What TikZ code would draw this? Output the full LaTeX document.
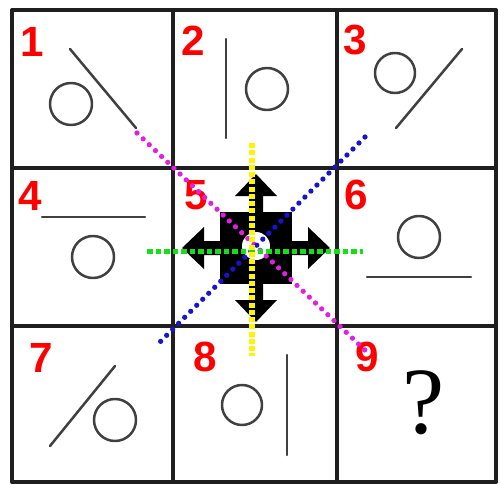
\documentclass[tikz,border=0pt]{standalone}
\usepackage{fontspec}
\setmainfont{Liberation Serif}
\newfontfamily\digitfont{Liberation Sans}
\usetikzlibrary{arrows.meta,calc}

\begin{document}
\begin{tikzpicture}[line cap=round, line join=round, x=0.2mm, y=-0.2mm,
    frame/.style={line width=0.7mm, draw=black!88},
    figline/.style={line width=0.5mm, draw=black!75},
    num/.style={text=red, font=\digitfont\bfseries\fontsize{24}{24}\selectfont, inner sep=0pt},
    magdots/.style={draw={rgb,255:red,225;green,30;blue,225}, line width=1.05mm, dash pattern=on 0mm off 1.7mm},
    bluedots/.style={draw={rgb,255:red,20;green,20;blue,210}, line width=1.05mm, dash pattern=on 0mm off 1.7mm},
    greendash/.style={draw={rgb,255:red,20;green,225;blue,20}, line width=1mm, line cap=butt, dash pattern=on 1.1mm off 0.6mm},
    yellowdash/.style={draw={rgb,255:red,255;green,245;blue,0}, line width=1.1mm, line cap=butt, dash pattern=on 1mm off 0.45mm}]
  \useasboundingbox (0,0) rectangle (501,484);
  % grid
  \foreach \x in {12,173,337,496} { \draw[frame] (\x,10) -- (\x,482); }
  \foreach \y in {10,168,326,482} { \draw[frame] (12,\y) -- (496,\y); }
  % cell numbers
  \node[num] (c1) at (32,42) {1};
  \node[num] (c2) at (193,41) {2};
  \node[num] (c3) at (355,40) {3};
  \node[num] (c4) at (30,196) {4};
  \node[num] (c5) at (196,195) {5};
  \node[num] (c6) at (356,195) {6};
  \node[num] (c7) at (41,358) {7};
  \node[num] (c8) at (205,357) {8};
  \node[num] (c9) at (367,357) {9};
  % figures
  \draw[figline] (71,104) circle (21);   \draw[figline] (70,49) -- (136,128);
  \draw[figline] (267,89) circle (21);   \draw[figline] (226,39) -- (226,138);
  \draw[figline] (395,73) circle (20);   \draw[figline] (462,49) -- (396,128);
  \draw[figline] (93,257) circle (21);   \draw[figline] (42,217) -- (145,217);
  \draw[figline] (419,237) circle (21);  \draw[figline] (367,277) -- (471,277);
  \draw[figline] (115,420) circle (21);  \draw[figline] (115,366) -- (50,446);
  \draw[figline] (242,405) circle (20);  \draw[figline] (287,355) -- (287,455);
  \node[font=\fontsize{54}{54}\selectfont, inner sep=0pt] (q) at (424,403) {?};
  % four-way arrow
  \fill[black] (220,212) rectangle (292,284);
  \foreach \r in {0,90,180,270} {
    \fill[black, shift={(256,248)}, rotate=\r] (-7,30) -- (-7,52) -- (-21,52) -- (0,74) -- (21,52) -- (7,52) -- (7,30) -- cycle;
  }
  \fill[white] (256,246) circle (14);
  % symmetry axes
  \coordinate (m1) at (137,133); \coordinate (m2) at (368,353);
  \coordinate (b1) at (365,137); \coordinate (b2) at (155,347);
  \coordinate (g1) at (147,251); \coordinate (g2) at (363,251);
  \coordinate (y1) at (252,143); \coordinate (y2) at (252,356);
  \draw[magdots] (m1) -- (m2);
  \draw[bluedots] (b1) -- (b2);
  \draw[greendash] (g1) -- (g2);
  \draw[yellowdash] (y1) -- (y2);
\end{tikzpicture}
\end{document}
